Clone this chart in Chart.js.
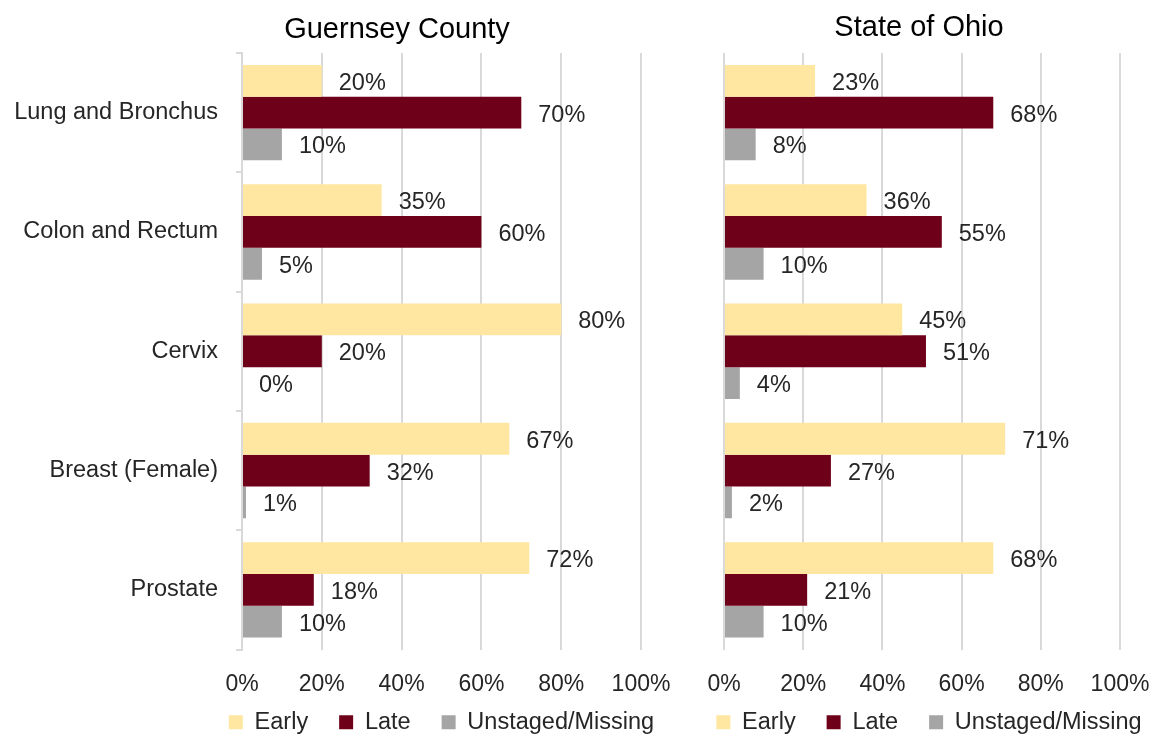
<!DOCTYPE html>
<html>
<head>
<meta charset="utf-8">
<script src="https://cdn.jsdelivr.net/npm/chart.js@4.4.1/dist/chart.umd.min.js"></script>
<style>
html,body{margin:0;padding:0;background:#fff;overflow:hidden;width:1153px;height:736px;}
#c1{position:absolute;left:0;top:0;}
#c2{position:absolute;left:690px;top:0;}
</style>
</head>
<body>
<canvas id="c1" width="680" height="744"></canvas>
<canvas id="c2" width="463" height="744"></canvas>
<script>
// ---- data ----
const categories = ['Lung and Bronchus', 'Colon and Rectum', 'Cervix', 'Breast (Female)', 'Prostate'];
const seriesNames = ['Early', 'Late', 'Unstaged/Missing'];
const guernseyEarly = [20, 35, 80, 67, 72];
const guernseyLate = [70, 60, 20, 32, 18];
const guernseyUnstaged = [10, 5, 0, 1, 10];
const ohioEarly = [23, 36, 45, 71, 68];
const ohioLate = [68, 55, 51, 27, 21];
const ohioUnstaged = [8, 10, 4, 2, 10];
const xTickValues = [0, 20, 40, 60, 80, 100];
const panelTitles = ['Guernsey County', 'State of Ohio'];

// ---- style ----
const FONT = "'Liberation Sans', Arial, sans-serif";
const TEXT = '#262626';
const GRID = '#d9d9d9';
const colors = ['#FFE6A1', '#6E0019', '#A5A5A5'];

const valueLabels = {
  id: 'valueLabels',
  afterDatasetsDraw(chart, args, opts) {
    const ctx = chart.ctx;
    ctx.save();
    ctx.font = opts.size + 'px ' + FONT;
    ctx.fillStyle = TEXT;
    ctx.textAlign = 'left';
    ctx.textBaseline = 'middle';
    chart.data.datasets.forEach((ds, i) => {
      const meta = chart.getDatasetMeta(i);
      meta.data.forEach((bar, j) => {
        ctx.fillText(ds.data[j] + '%', bar.x + opts.offset, bar.y + opts.dy);
      });
    });
    ctx.restore();
  }
};

const panelTitle = {
  id: 'panelTitle',
  afterDraw(chart, args, opts) {
    const ctx = chart.ctx;
    ctx.save();
    ctx.font = opts.size + 'px ' + FONT;
    ctx.fillStyle = '#000';
    ctx.textAlign = 'center';
    ctx.textBaseline = 'alphabetic';
    ctx.fillText(opts.text, opts.x, opts.y);
    ctx.restore();
  }
};

// let the one-row legend be wider than the plot area (it stays centred on it),
// and keep the x tick labels from being clipped by the legend box below them
const layoutTweaks = {
  id: 'layoutTweaks',
  beforeLayout(chart, args, opts) {
    const lg = chart.legend;
    if (lg && !lg._wide) {
      const orig = lg.update;
      lg.update = function (maxWidth, maxHeight, margins) {
        return orig.call(this, maxWidth + 2 * opts.extraLegendWidth, maxHeight, margins);
      };
      lg._wide = true;
    }
  },
  afterLayout(chart, args, opts) {
    chart.scales.x.bottom += opts.extraTickRoom;
    const lg = chart.legend;
    lg.left -= opts.extraLegendWidth - opts.legendShift;
    lg.right += opts.extraLegendWidth + opts.legendShift;
    lg.width = lg.right - lg.left;
  }
};

function makeChart(id, vals, title, cfg) {
  const datasets = seriesNames.map((name, i) => ({
    label: name,
    data: vals[i],
    backgroundColor: colors[i],
    borderWidth: 0,
    categoryPercentage: 0.8,
    barPercentage: 1.0
  }));
  return new Chart(document.getElementById(id), {
    type: 'bar',
    data: { labels: categories, datasets },
    options: {
      indexAxis: 'y',
      responsive: false,
      maintainAspectRatio: false,
      animation: false,
      layout: { padding: { top: 53, right: cfg.padRight, left: 0, bottom: 0 } },
      scales: {
        x: {
          type: 'linear',
          min: 0, max: 100,
          afterBuildTicks(scale) { scale.ticks = xTickValues.map(v => ({ value: v })); },
          afterFit(scale) {
            scale.height = 30;
            scale.paddingLeft = 0;
            scale.paddingRight = 0;
          },
          ticks: {
            callback: v => v + '%',
            font: { family: FONT, size: 23 },
            color: TEXT,
            padding: 21,
            maxRotation: 0
          },
          grid: { color: GRID, lineWidth: 2, drawTicks: false },
          border: { display: false }
        },
        y: {
          type: 'category',
          afterFit(scale) { scale.width = cfg.yWidth; },
          ticks: {
            display: cfg.showLabels,
            font: { family: FONT, size: 23.5 },
            color: TEXT,
            padding: 18
          },
          grid: {
            display: cfg.showLabels,
            drawOnChartArea: false,
            drawTicks: true,
            tickLength: 6,
            color: GRID,
            lineWidth: 2,
            offset: true
          },
          border: { display: cfg.showLabels, color: GRID, width: 2 }
        }
      },
      plugins: {
        legend: {
          position: 'bottom',
          fullSize: false,
          labels: {
            boxWidth: 14,
            boxHeight: 14,
            padding: 31,
            color: TEXT,
            font: { family: FONT, size: 23.5 }
          }
        },
        tooltip: { enabled: false },
        title: { display: false },
        valueLabels: { size: 23.5, offset: 17, dy: 2.5 },
        panelTitle: { text: title, x: cfg.titleX, y: cfg.titleY, size: 29 },
        layoutTweaks: { extraLegendWidth: 80, extraTickRoom: 30, legendShift: cfg.legendShift }
      }
    },
    plugins: [valueLabels, panelTitle, layoutTweaks]
  });
}

makeChart('c1', [guernseyEarly, guernseyLate, guernseyUnstaged], panelTitles[0],
  { padRight: 39, yWidth: 242, showLabels: true, titleX: 397, titleY: 38, legendShift: 0 });
makeChart('c2', [ohioEarly, ohioLate, ohioUnstaged], panelTitles[1],
  { padRight: 33, yWidth: 34, showLabels: false, titleX: 229, titleY: 36, legendShift: 7 });
</script>
</body>
</html>
